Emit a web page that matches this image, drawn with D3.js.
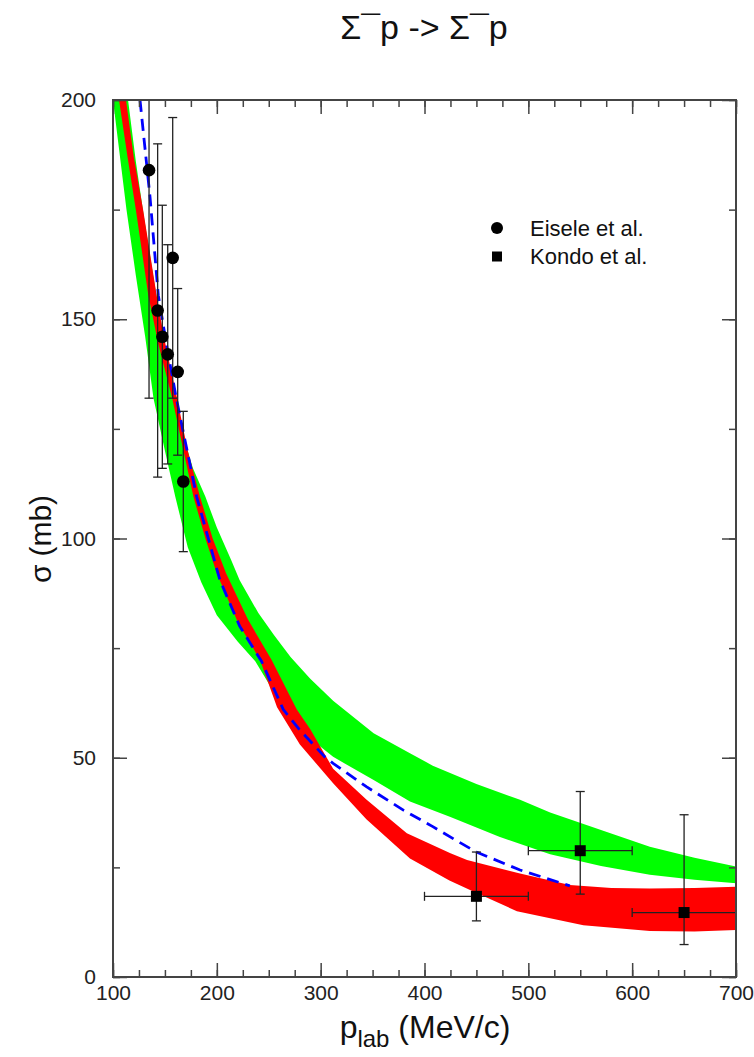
<!DOCTYPE html>
<html><head><meta charset="utf-8">
<script src="https://cdn.jsdelivr.net/npm/d3@7"></script>
<style>body{margin:0;background:#fff}svg{display:block}text{font-family:"Liberation Sans",Arial,Helvetica,sans-serif}</style>
</head><body><svg id="c" width="754" height="1057"></svg>
<script>
// ---- data (plab MeV/c, sigma mb) ----
const xTicks = [100,200,300,400,500,600,700];
const yTicks = [0,50,100,150,200];
const xMinor = d3.range(100,701,25);
const yMinor = d3.range(0,201,25);

const greenLower = [[100,200],[113,175],[122,160],[131,146],[139,132],[150,120],[160,109.5],[172,98],[185,90],[200,82.5],[220,76.5],[237,72],[260,63],[280,56.3],[312,50.2],[351,44.9],[386,40],[425,36.5],[472,32],[521,28],[570,25.3],[617,23.3],[660,22.2],[700,21.4]];
const greenUpper = [[114.5,200],[122,186],[130,173],[140,158],[150,144],[158,134],[166,124.7],[177,116],[189,109.5],[200,102.5],[214,95],[222,90.5],[240,83],[255,78],[271,73],[290,68],[312,63],[351,55.6],[386,51],[408,48.2],[450,44],[492,40.4],[521,37.5],[570,33.5],[617,29.7],[660,27.2],[700,25.2]];
const redLower = [[105.8,200],[114,187],[122,175],[134,155.5],[144,144],[157,132],[167,121],[177.5,109.5],[189,100],[200,92],[220,81],[241.6,72.3],[258,61.5],[280,53],[312,44.2],[344,36],[386,27],[424,22],[447,19.5],[489,15],[553,11.8],[617,10.5],[660,10.4],[700,10.7]];
const redUpper = [[112.5,200],[120,187],[129,175],[142,155.5],[149,146],[161.4,132.3],[172,120],[183.8,109.5],[196,100],[209,92],[230,81.5],[252.8,72.3],[277,61],[290,56.5],[312,47.5],[344,40.5],[383,32.8],[425,28.2],[441,26.7],[492,23.6],[540,21],[580,20.3],[617,20.2],[660,20.3],[700,20.6]];
const blueDashed = [[126,200],[135.6,178],[143.6,155.5],[151.7,144],[160.7,132.3],[180.6,109.5],[203,90.5],[222,80],[243,72],[264,61],[280,56.3],[304,50.2],[312,48.7],[344,43.4],[380,38],[408,34.3],[428,31.5],[450,28.5],[492,24.4],[540,20.8]];

const eiseleX = [134.7,143,147.5,152.7,157.5,162.3,167.7];
const eiseleY = [184,152,146,142,164,138,113];
const eiseleErr = [52,38,30,25,32,19,16];

const kondoX = [450,550,650];
const kondoY = [18.4,28.8,14.7];
const kondoXErr = [50,50,50];
const kondoErrHi = [10.1,13.5,22.3];
const kondoErrLo = [5.6,9.9,7.3];

// ---- layout ----
const L=113,R=736,T=100,B=977;
const svg = d3.select("#c");
const x = d3.scaleLinear().domain([100,700]).range([L,R]);
const y = d3.scaleLinear().domain([0,200]).range([B,T]);

svg.append("defs").append("clipPath").attr("id","clip").append("rect")
  .attr("x",L).attr("y",T).attr("width",R-L).attr("height",B-T);
const g = svg.append("g").attr("clip-path","url(#clip)");
const line = d3.line().x(d=>x(d[0])).y(d=>y(d[1]));

g.append("path").attr("d", line(greenLower.concat(greenUpper.slice().reverse()))+"Z").attr("fill","#00ff00");
g.append("path").attr("d", line(redLower.concat(redUpper.slice().reverse()))+"Z").attr("fill","#ff0000");
g.append("path").attr("d", line(blueDashed)).attr("fill","none").attr("stroke","#0000ff")
  .attr("stroke-width",2.8).attr("stroke-dasharray","12,7");

// error bars
const eb = g.append("g").attr("stroke","#222").attr("stroke-width",1.3).attr("fill","none");
eiseleX.forEach((px,i)=>{
  const cx=x(px), y1=y(eiseleY[i]+eiseleErr[i]), y2=y(eiseleY[i]-eiseleErr[i]);
  eb.append("line").attr("x1",cx).attr("x2",cx).attr("y1",y1).attr("y2",y2);
  eb.append("line").attr("x1",cx-4.5).attr("x2",cx+4.5).attr("y1",y1).attr("y2",y1);
  eb.append("line").attr("x1",cx-4.5).attr("x2",cx+4.5).attr("y1",y2).attr("y2",y2);
});
kondoX.forEach((px,i)=>{
  const cx=x(px), cy=y(kondoY[i]);
  const y1=y(kondoY[i]+kondoErrHi[i]), y2=y(kondoY[i]-kondoErrLo[i]);
  const x1=x(px-kondoXErr[i]), x2=x(px+kondoXErr[i]);
  eb.append("line").attr("x1",cx).attr("x2",cx).attr("y1",y1).attr("y2",y2);
  eb.append("line").attr("x1",cx-4.5).attr("x2",cx+4.5).attr("y1",y1).attr("y2",y1);
  eb.append("line").attr("x1",cx-4.5).attr("x2",cx+4.5).attr("y1",y2).attr("y2",y2);
  eb.append("line").attr("x1",x1).attr("x2",x2).attr("y1",cy).attr("y2",cy);
  eb.append("line").attr("x1",x1).attr("x2",x1).attr("y1",cy-4.5).attr("y2",cy+4.5);
  eb.append("line").attr("x1",x2).attr("x2",x2).attr("y1",cy-4.5).attr("y2",cy+4.5);
});
g.selectAll("circle.e").data(eiseleX).enter().append("circle")
  .attr("cx",d=>x(d)).attr("cy",(d,i)=>y(eiseleY[i])).attr("r",6.3).attr("fill","#000");
g.selectAll("rect.k").data(kondoX).enter().append("rect")
  .attr("x",d=>x(d)-5.5).attr("y",(d,i)=>y(kondoY[i])-5.5).attr("width",11).attr("height",11).attr("fill","#000");

// axes
function styleAxis(sel){ sel.select(".domain").remove(); sel.selectAll("line").attr("stroke","#444").attr("stroke-width",1.5);
  sel.selectAll("text").attr("fill","#222").style("font-size","21px").style("font-family","'Liberation Sans',Arial,sans-serif"); }
const fmt = d3.format("d");
svg.append("g").attr("transform",`translate(0,${B})`).call(d3.axisBottom(x).tickValues(xMinor).tickSize(-7).tickFormat("")).call(styleAxis);
svg.append("g").attr("transform",`translate(0,${B})`).call(d3.axisBottom(x).tickValues(xTicks).tickSize(-14).tickPadding(8).tickFormat(fmt)).call(styleAxis);
svg.append("g").attr("transform",`translate(0,${T})`).call(d3.axisTop(x).tickValues(xMinor).tickSize(-7).tickFormat("")).call(styleAxis);
svg.append("g").attr("transform",`translate(0,${T})`).call(d3.axisTop(x).tickValues(xTicks).tickSize(-14).tickFormat("")).call(styleAxis);
svg.append("g").attr("transform",`translate(${L},0)`).call(d3.axisLeft(y).tickValues(yMinor).tickSize(-7).tickFormat("")).call(styleAxis);
svg.append("g").attr("transform",`translate(${L},0)`).call(d3.axisLeft(y).tickValues(yTicks).tickSize(-14).tickPadding(17).tickFormat(fmt)).call(styleAxis);
svg.append("g").attr("transform",`translate(${R},0)`).call(d3.axisRight(y).tickValues(yMinor).tickSize(-7).tickFormat("")).call(styleAxis);
svg.append("g").attr("transform",`translate(${R},0)`).call(d3.axisRight(y).tickValues(yTicks).tickSize(-14).tickFormat("")).call(styleAxis);
svg.append("rect").attr("x",L).attr("y",T).attr("width",R-L).attr("height",B-T).attr("fill","none").attr("stroke","#444").attr("stroke-width",2);

// legend
svg.append("circle").attr("cx",497).attr("cy",228).attr("r",6).attr("fill","#000");
svg.append("rect").attr("x",492).attr("y",251.5).attr("width",10).attr("height",10).attr("fill","#000");
svg.append("text").attr("x",530).attr("y",236).style("font-size","22px").attr("fill","#111").text("Eisele et al.");
svg.append("text").attr("x",530).attr("y",264).style("font-size","22px").attr("fill","#111").text("Kondo et al.");

// title
svg.append("text").attr("x",424).attr("y",39).attr("text-anchor","middle").style("font-size","34px").attr("fill","#111")
  .text("Σ¯p -> Σ¯p");

// axis labels
const yl = svg.append("text").attr("transform","translate(51,539) rotate(-90)").attr("text-anchor","middle")
  .style("font-size","30px").attr("fill","#111");
yl.append("tspan").text("σ");
yl.append("tspan").attr("dx",8).text("(mb)");
const xl = svg.append("text").attr("x",425).attr("y",1038).attr("text-anchor","middle").style("font-size","32px").attr("fill","#111");
xl.append("tspan").text("p");
xl.append("tspan").attr("dy",9).style("font-size","24px").text("lab");
xl.append("tspan").attr("dy",-9).text(" (MeV/c)");
</script></body></html>
